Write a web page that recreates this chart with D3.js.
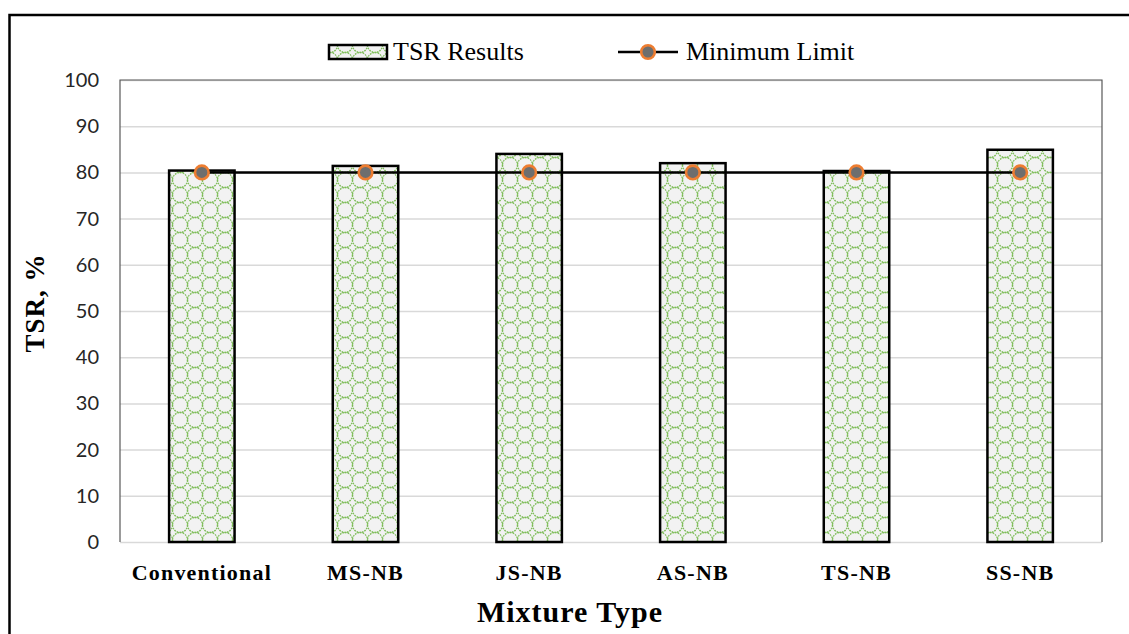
<!DOCTYPE html>
<html>
<head>
<meta charset="utf-8">
<script src="https://cdn.jsdelivr.net/npm/d3@7/dist/d3.min.js"></script>
<style>
  html, body { margin: 0; padding: 0; background: #fff; }
  svg { display: block; }
</style>
</head>
<body>
<svg id="chart" width="1129" height="634"></svg>
<script>
// TSR values per mixture and the specification minimum
const categories = ["Conventional", "MS-NB", "JS-NB", "AS-NB", "TS-NB", "SS-NB"];
const tsrValues = [80.4, 81.4, 84.0, 82.0, 80.3, 84.9];
const minimumLimit = [80, 80, 80, 80, 80, 80];
const yTicks = [0, 10, 20, 30, 40, 50, 60, 70, 80, 90, 100];

const svg = d3.select("#chart");
const W = 1129, H = 634;
const plot = { left: 120, top: 80, right: 1102, bottom: 542 };
const serif = "'Liberation Serif', 'Times New Roman', serif";

// Lattice fill used by the bars and the legend swatch
const defs = svg.append("defs");
const pat = defs.append("pattern")
  .attr("id", "lattice")
  .attr("patternUnits", "userSpaceOnUse")
  .attr("width", 15).attr("height", 15);
pat.append("rect").attr("width", 15).attr("height", 15).attr("fill", "#f2f2f2");
[[0, 0], [15, 0], [0, 15], [15, 15]].forEach(([cx, cy]) => {
  pat.append("circle")
    .attr("cx", cx).attr("cy", cy).attr("r", 7.5)
    .attr("fill", "none")
    .attr("stroke", "#7dbd57")
    .attr("stroke-width", 1.3)
    .attr("stroke-dasharray", "1.7 1.0");
});

// Outer chart frame (runs off the right and bottom edges)
svg.append("rect")
  .attr("x", 9.5).attr("y", 15)
  .attr("width", W + 20).attr("height", H + 20)
  .attr("fill", "none").attr("stroke", "#000").attr("stroke-width", 2.5);

const x = d3.scaleBand()
  .domain(categories)
  .range([plot.left, plot.right])
  .paddingInner(0.6)
  .paddingOuter(0.3);

const y = d3.scaleLinear().domain([0, 100]).range([plot.bottom, plot.top]);

// Horizontal gridlines and value labels
const yAxis = d3.axisLeft(y).tickValues(yTicks).tickSize(-(plot.right - plot.left)).tickPadding(21);
const gy = svg.append("g").attr("transform", `translate(${plot.left},0)`).call(yAxis);
gy.select(".domain").remove();
gy.selectAll(".tick line").attr("stroke", "#d9d9d9").attr("stroke-width", 1.5);
gy.selectAll(".tick text")
  .attr("fill", "#262626")
  .style("font-family", "Lato, 'Open Sans', sans-serif")
  .style("font-size", "20px");

// Plot-area border (left, top, right)
svg.append("path")
  .attr("d", `M${plot.left},${plot.bottom}V${plot.top}H${plot.right}V${plot.bottom}`)
  .attr("fill", "none").attr("stroke", "#595959").attr("stroke-width", 1.2);

// Bars
svg.append("g").selectAll("rect")
  .data(categories.map((c, i) => ({ c, v: tsrValues[i] })))
  .join("rect")
  .attr("x", d => x(d.c))
  .attr("y", d => y(d.v))
  .attr("width", x.bandwidth())
  .attr("height", d => y(0) - y(d.v))
  .attr("fill", "url(#lattice)")
  .attr("stroke", "#000")
  .attr("stroke-width", 2.5);

// Minimum limit line with markers
const limitPts = categories.map((c, i) => [x(c) + x.bandwidth() / 2, y(minimumLimit[i])]);
svg.append("path")
  .attr("d", d3.line()(limitPts))
  .attr("fill", "none").attr("stroke", "#000").attr("stroke-width", 2.5);
svg.append("g").selectAll("circle")
  .data(limitPts)
  .join("circle")
  .attr("cx", d => d[0]).attr("cy", d => d[1]).attr("r", 6.8)
  .attr("fill", "#6e6e6e").attr("stroke", "#ed7d31").attr("stroke-width", 2.6);

// Category labels
const xAxis = d3.axisBottom(x).tickSize(0).tickPadding(22);
const gx = svg.append("g").attr("transform", `translate(0,${plot.bottom})`).call(xAxis);
gx.select(".domain").remove();
gx.selectAll(".tick text")
  .attr("fill", "#000")
  .style("font-family", serif)
  .style("font-weight", "bold")
  .style("font-size", "22px")
  .style("letter-spacing", "1.2px");

// Axis titles
svg.append("text")
  .attr("x", 570).attr("y", 622)
  .attr("text-anchor", "middle")
  .style("font-family", serif)
  .style("font-weight", "bold").style("font-size", "30px")
  .style("letter-spacing", "1px")
  .text("Mixture Type");

svg.append("text")
  .attr("transform", `translate(44,303) rotate(-90)`)
  .attr("text-anchor", "middle")
  .style("font-family", serif)
  .style("font-weight", "bold").style("font-size", "27px")
  .style("letter-spacing", "1px")
  .text("TSR, %");

// Legend
const legend = svg.append("g");
legend.append("rect")
  .attr("x", 329).attr("y", 45).attr("width", 58).attr("height", 14)
  .attr("fill", "url(#lattice)").attr("stroke", "#000").attr("stroke-width", 2.5);
legend.append("text")
  .attr("x", 393).attr("y", 60)
  .style("font-family", serif)
  .style("font-size", "26px")
  .text("TSR Results");
legend.append("line")
  .attr("x1", 618).attr("x2", 678).attr("y1", 52).attr("y2", 52)
  .attr("stroke", "#000").attr("stroke-width", 2.5);
legend.append("circle")
  .attr("cx", 648).attr("cy", 52).attr("r", 6.8)
  .attr("fill", "#6e6e6e").attr("stroke", "#ed7d31").attr("stroke-width", 2.6);
legend.append("text")
  .attr("x", 686).attr("y", 60)
  .style("font-family", serif)
  .style("font-size", "26px")
  .text("Minimum Limit");
</script>
</body>
</html>
